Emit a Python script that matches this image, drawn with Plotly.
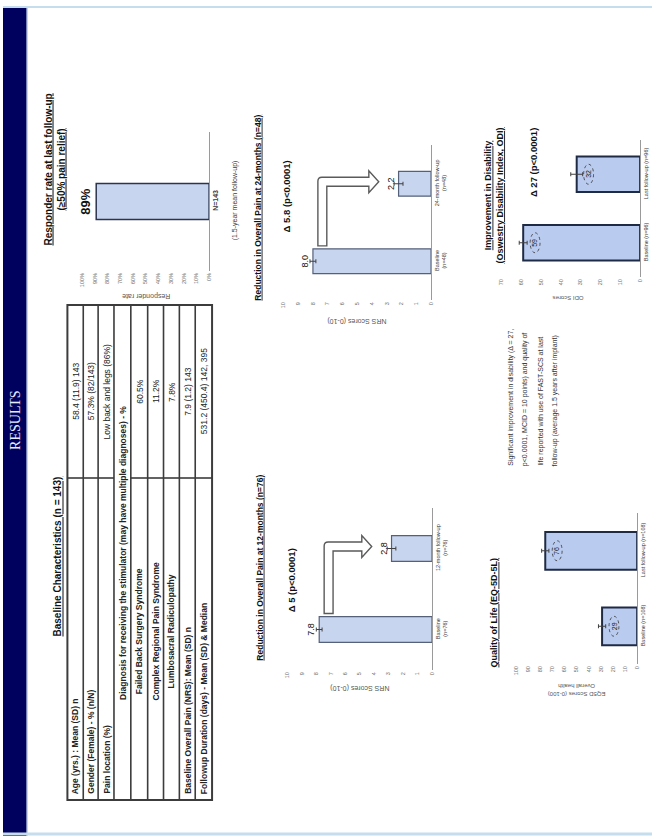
import plotly.graph_objects as go

W, H = 655, 836
FONT = "Liberation Sans"


def fx(p):
    return p / W


def fy(p):
    return 1 - p / H


# ---------------- data ----------------
responder_cats = ["<b>N=143</b><br> <br>(1.5-year mean follow-up)"]
responder_pct = [89]

nrs24_cats = ["Baseline<br>(n=48)", "24-month follow-up<br>(n=48)"]
nrs24_vals = [8.0, 2.2]
nrs24_err = [0.2, 0.3]

nrs12_cats = ["Baseline<br>(n=76)", "12-month follow-up<br>(n=76)"]
nrs12_vals = [7.8, 2.8]
nrs12_err = [0.2, 0.3]

odi_cats = ["Baseline (n=96)", "Last follow-up (n=96)"]
odi_vals = [59, 32]
odi_err = [2, 3]

qol_cats = ["Baseline (n=108)", "Last follow-up (n=108)"]
qol_vals = [29, 76]
qol_err = [3, 3]

table_labels = [
    "Age (yrs.) : Mean (SD) n",
    "Gender (Female) - % (n/N)",
    "Pain location (%)",
    "Diagnosis for receiving the stimulator (may have multiple diagnoses) - %",
    "Failed Back Surgery Syndrome",
    "Complex Regional Pain Syndrome",
    "Lumbosacral Radiculopathy",
    "Baseline Overall Pain (NRS): Mean (SD) n",
    "Followup Duration (days) - Mean (SD) & Median",
]
table_values = [
    "58.4 (11.9) 143",
    "57.3% (82/143)",
    "Low back and legs (86%)",
    None,
    "60.5%",
    "11.2%",
    "7.8%",
    "7.9 (1.2) 143",
    "531.2 (450.4) 142, 395",
]

summary_lines = [
    "Significant improvement in disability (Δ = 27,",
    "p&lt;0.0001, MCID = 10 points) and quality of",
    "life reported with use of FAST-SCS at last",
    "follow-up (average 1.5 years after implant)",
]

# ---------------- panel geometry (pixel boxes: left, right, top, bottom) ----------------
panels = [
    dict(k=1, cats=responder_cats, vals=responder_pct, err=None, vmax=100, dtick=10,
         suffix="%", box=(80, 208, 132, 271), gap=0.74, fill="#c8d5ee", line="#2c3550",
         lw=1.5, label="outside", catsize=7),
    dict(k=2, cats=nrs24_cats, vals=nrs24_vals, err=nrs24_err, vmax=10, dtick=1,
         suffix="", box=(283, 432, 145, 300), gap=0.68, fill="#c8d5ee", line="#55607a",
         lw=1.2, label="outside", catsize=5.5),
    dict(k=3, cats=nrs12_cats, vals=nrs12_vals, err=nrs12_err, vmax=10, dtick=1,
         suffix="", box=(287, 433, 508, 670), gap=0.68, fill="#c8d5ee", line="#55607a",
         lw=1.2, label="outside", catsize=5.5),
    dict(k=4, cats=odi_cats, vals=odi_vals, err=odi_err, vmax=70, dtick=10,
         suffix="", box=(503, 643, 140, 277), gap=0.48, fill="#b9cbee", line="#1f2b45",
         lw=2, label="oval", catsize=5.5),
    dict(k=5, cats=qol_cats, vals=qol_vals, err=qol_err, vmax=100, dtick=10,
         suffix="", box=(518, 640, 513, 664), gap=0.5, fill="#b9cbee", line="#1f2b45",
         lw=2, label="oval", catsize=5.5),
]


def val_px(p, v):
    xl, xr, _, _ = p["box"]
    return xr - (xr - xl) * v / p["vmax"]


def cat_px(p, i):
    _, _, yt, yb = p["box"]
    return yb - (i + 0.5) * (yb - yt) / len(p["cats"])


fig = go.Figure()
annotations = []
shapes = []
layout_axes = {}


def note(x, y, text, size, angle=-90, color="#111", family=FONT, xa="center", ya="middle",
         align="center"):
    annotations.append(dict(x=fx(x), y=fy(y), xref="paper", yref="paper", text=text,
                            showarrow=False, textangle=angle, xanchor=xa, yanchor=ya,
                            align=align, font=dict(family=family, size=size, color=color)))


for p in panels:
    k = p["k"]
    xl, xr, yt, yb = p["box"]
    bar = go.Bar(
        x=p["vals"], y=p["cats"], orientation="h",
        xaxis=f"x{k}", yaxis=f"y{k}", width=1 - p["gap"],
        marker=dict(color=p["fill"], line=dict(color=p["line"], width=p["lw"])),
        showlegend=False, cliponaxis=False,
    )
    if p["err"] is not None:
        bar.error_x = dict(type="data", array=p["err"], symmetric=True,
                           color="#404040", thickness=1, width=2)
    if p["label"] == "outside":
        fmt = "%{x:.0f}%" if p["suffix"] == "%" else "%{x:.1f}"
        bar.texttemplate = "<b>" + fmt + "</b>" if k == 1 else fmt
        bar.textposition = "outside"
        bar.textangle = -90
        bar.textfont = dict(family=FONT, size=13 if k == 1 else 9, color="#111")
    fig.add_trace(bar)

    layout_axes[f"xaxis{k}"] = dict(
        domain=[fx(xl), fx(xr)], range=[p["vmax"], 0], anchor=f"y{k}",
        showgrid=False, zeroline=False, showline=False, ticks="",
        dtick=p["dtick"], tick0=0, ticksuffix=p["suffix"], tickangle=-90,
        tickfont=dict(family=FONT, size=5.5, color="#6d6d6d"), fixedrange=True,
    )
    layout_axes[f"yaxis{k}"] = dict(
        domain=[fy(yb), fy(yt)], anchor=f"x{k}", side="right", type="category",
        showgrid=False, zeroline=False, showline=True, linecolor="#9a9a9a",
        linewidth=1, ticks="", tickangle=-90,
        tickfont=dict(family=FONT, size=p["catsize"], color="#3a3a3a"), fixedrange=True,
    )

    # value labels inside a dotted oval near the bar end
    if p["label"] == "oval":
        for i, v in enumerate(p["vals"]):
            cx = val_px(p, v) + 12
            cy = cat_px(p, i)
            note(cx, cy, f"{v}", 7, color="#1a1a1a")
            shapes.append(dict(type="circle", xref="paper", yref="paper",
                               x0=fx(cx - 5), x1=fx(cx + 5), y0=fy(cy + 10), y1=fy(cy - 10),
                               line=dict(color="#333", width=0.8, dash="dot")))


def elbow_arrow(p, shaft=9, head=22, head_len=10, r=4):
    """Hollow elbow arrow from the baseline bar end to the follow-up bar."""
    _, _, yt, yb = p["box"]
    n = len(p["cats"])
    half = (1 - p["gap"]) * (yb - yt) / n / 2
    xs = val_px(p, p["vals"][0]) + 5
    ys = cat_px(p, 0) - half - 3
    yc = cat_px(p, 1) - 2
    top = yc - shaft / 2
    tip = val_px(p, p["vals"][1]) - 20
    hb = tip - head_len
    pts = [("M", xs, ys), ("L", xs, top + r), ("Q", xs, top, xs + r, top),
           ("L", hb, top), ("L", hb, yc - head / 2), ("L", tip, yc),
           ("L", hb, yc + head / 2), ("L", hb, top + shaft),
           ("L", xs + shaft, top + shaft), ("L", xs + shaft, ys)]
    path = ""
    for seg in pts:
        cmd, coords = seg[0], seg[1:]
        xy = []
        for j in range(0, len(coords), 2):
            xy.append(f"{fx(coords[j]):.5f},{fy(coords[j + 1]):.5f}")
        path += cmd + " ".join(xy) + " "
    path += "Z"
    return dict(type="path", xref="paper", yref="paper", path=path,
                fillcolor="white", line=dict(color="#5a5a5a", width=1.4))


shapes.append(elbow_arrow(panels[1]))
shapes.append(elbow_arrow(panels[2]))

# ---------------- frame ----------------
shapes += [
    dict(type="rect", xref="paper", yref="paper", x0=fx(0), x1=fx(24), y0=fy(836), y1=fy(7),
         fillcolor="#00005f", line=dict(width=0), layer="below"),
    dict(type="line", xref="paper", yref="paper", x0=fx(24.5), x1=fx(24.5), y0=fy(836), y1=fy(7),
         line=dict(color="#bcd8ea", width=1.5)),
    dict(type="line", xref="paper", yref="paper", x0=fx(0), x1=fx(655), y0=fy(7), y1=fy(7),
         line=dict(color="#c6dded", width=2)),
    dict(type="line", xref="paper", yref="paper", x0=fx(0), x1=fx(655), y0=fy(834), y1=fy(834),
         line=dict(color="#c6dded", width=3)),
]
note(13, 420, "RESULTS", 14, color="#e8ecff", family="Liberation Serif")

# ---------------- table ----------------
row_edges = [65, 81, 96, 112, 129, 146, 162, 178, 194, 211]
t_top, t_bot, t_div = 305, 800, 478
line_col = "#3c3c3c"
TFS = 8.5
shapes.append(dict(type="rect", xref="paper", yref="paper", x0=fx(row_edges[0]), x1=fx(row_edges[-1]),
                   y0=fy(t_bot), y1=fy(t_top), line=dict(color=line_col, width=2)))
for xe in row_edges[1:-1]:
    shapes.append(dict(type="line", xref="paper", yref="paper", x0=fx(xe), x1=fx(xe),
                       y0=fy(t_bot), y1=fy(t_top), line=dict(color=line_col, width=1.6)))
for i, (lab, val) in enumerate(zip(table_labels, table_values)):
    xc = (row_edges[i] + row_edges[i + 1]) / 2
    if val is None:
        note(xc, (t_top + t_bot) / 2, f"<b>{lab}</b>", TFS, color="#222")
        continue
    shapes.append(dict(type="line", xref="paper", yref="paper", x0=fx(row_edges[i]),
                       x1=fx(row_edges[i + 1]), y0=fy(t_div), y1=fy(t_div),
                       line=dict(color=line_col, width=1.6)))
    if 4 <= i <= 6:
        note(xc, (t_div + t_bot) / 2 - 8, f"<b>{lab}</b>", TFS, color="#222")
    else:
        note(xc, t_bot - 4, f"<b>{lab}</b>", TFS, color="#222", ya="bottom")
    note(xc, (t_top + t_div) / 2, val, TFS, color="#222")

# ---------------- titles and notes ----------------
note(55, 556, "<b><u>Baseline Characteristics (n = 143)</u></b>", 10)
note(52, 170, "<b><u>Responder rate at last follow-up</u></b><br><b><u>(≥50% pain relief)</u></b>", 10)
note(257, 208, "<b><u>Reduction in Overall Pain at 24-months (n=48)</u></b>", 8.5)
note(259, 568, "<b><u>Reduction in Overall Pain at 12-months (n=76)</u></b>", 8.5)
note(496, 195, "<b><u>Improvement in Disability</u></b><br><b><u>(Oswestry Disability Index, ODI)</u></b>", 9)
note(496, 612, "<b><u>Quality of Life (EQ-5D-5L)</u></b>", 9)

note(286, 196, "<b>Δ 5.8 (p&lt;0.0001)</b>", 9.5)
note(291, 580, "<b>Δ 5 (p&lt;0.0001)</b>", 9.5)
note(535, 163, "<b>Δ 27 (p&lt;0.0001)</b>", 9.5)

note(145, 296, "Responder rate", 7, angle=180, color="#555")
note(357, 321, "NRS Scores (0-10)", 7, angle=180, color="#555")
note(360, 688, "NRS Scores (0-10)", 7, angle=180, color="#555")
note(570, 298, "ODI Scores", 6, angle=180, color="#555")
note(579, 690, "EQ5D Scores (0-100)<br>Overall health", 6, angle=180, color="#555")

for j, line in enumerate(summary_lines):
    note(512 + 15 * j, 468, line, 7, color="#333", ya="bottom")

fig.update_layout(
    width=W, height=H, margin=dict(l=0, r=0, t=0, b=0),
    paper_bgcolor="white", plot_bgcolor="rgba(0,0,0,0)",
    annotations=annotations, shapes=shapes, showlegend=False,
    font=dict(family=FONT), **layout_axes,
)

fig.write_html("out.html")
